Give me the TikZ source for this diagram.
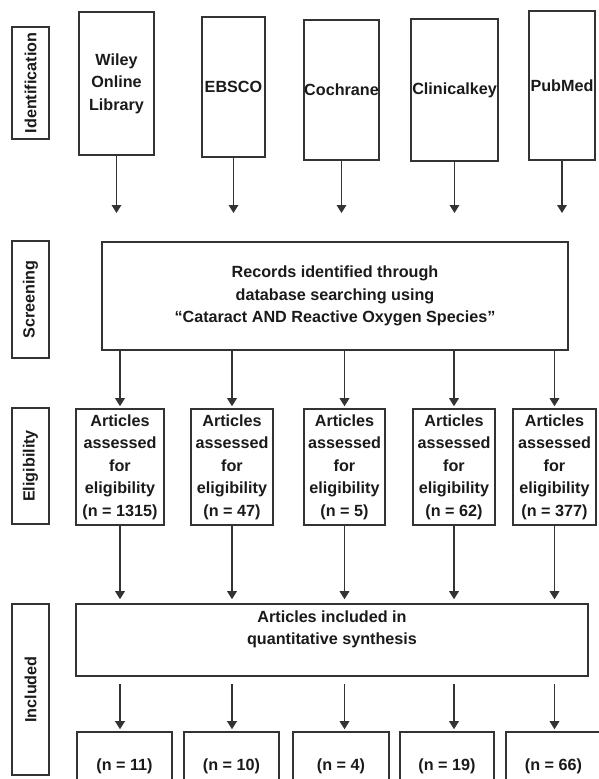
\documentclass[tikz,border=0pt]{standalone}
\usepackage{fontspec}
\setmainfont{Liberation Sans}
\usetikzlibrary{arrows.meta,positioning}
\definecolor{linegray}{HTML}{333333}
\definecolor{inkblack}{HTML}{1A1A1A}
\begin{document}
\begin{tikzpicture}[x=0.025cm, y=-0.025cm,
    txt/.style={text=inkblack, inner sep=0pt, align=center, font=\bfseries\fontsize{11.5}{16}\selectfont},
    box/.style={txt, rectangle, draw=linegray, line width=\boxlinewidth},
    stagebox/.style={box, rotate=90, minimum height=37*\pxu},
    arr/.style={-{Triangle[width=0.24cm,length=0.2cm]}, draw=linegray, line width=\arrowlinewidth}]
        \def\pxu{0.025cm}
        \def\boxlinewidth{1.1pt}
        \def\arrowlinewidth{1pt}

        \useasboundingbox (0,0) rectangle (599,779);
        \clip (0,0) rectangle (599,779);

        \node[stagebox, minimum width=112*\pxu] (identification) at (30.5,83) {Identification};
        \node[stagebox, minimum width=117*\pxu] (screening) at (30.5,299.5) {Screening};
        \node[stagebox, minimum width=116*\pxu] (eligibility) at (30.5,466) {Eligibility};
        \node[stagebox, minimum width=171*\pxu] (included) at (30.5,689.5) {Included};

        \node[box, minimum width=75*\pxu, minimum height=143*\pxu] (wiley) at (116.5,83.5) {Wiley\\Online\\Library};
        \node[box, minimum width=63*\pxu, minimum height=140*\pxu] (ebsco) at (233.5,87) {EBSCO};
        \node[box, minimum width=75*\pxu, minimum height=140*\pxu] (cochrane) at (341.5,90) {Cochrane};
        \node[box, minimum width=87*\pxu, minimum height=142*\pxu] (clinicalkey) at (454.5,90) {Clinicalkey};
        \node[box, minimum width=66*\pxu, minimum height=149*\pxu] (pubmed) at (562,85.5) {PubMed};
        \coordinate (tipline) at (0,213);

        \node[box, minimum width=466*\pxu, minimum height=108*\pxu] (records) at (335,296) {Records identified through\\database searching using\\“Cataract AND Reactive Oxygen Species”};

        \node[box, minimum width=88*\pxu, minimum height=116*\pxu] (e1) at (120,467) {Articles\\assessed\\for\\eligibility\\(n = 1315)};
        \node[box, minimum width=82*\pxu, minimum height=116*\pxu] (e2) at (232,467) {Articles\\assessed\\for\\eligibility\\(n = 47)};
        \node[box, minimum width=81*\pxu, minimum height=116*\pxu] (e3) at (344.5,467) {Articles\\assessed\\for\\eligibility\\(n = 5)};
        \node[box, minimum width=82*\pxu, minimum height=116*\pxu] (e4) at (454,467) {Articles\\assessed\\for\\eligibility\\(n = 62)};
        \node[box, minimum width=83*\pxu, minimum height=116*\pxu] (e5) at (554.5,467) {Articles\\assessed\\for\\eligibility\\(n = 377)};

        \node[box, minimum width=512*\pxu, minimum height=72*\pxu] (synthesis) at (332,640) {};
        \node[txt, below=7*\pxu of synthesis.north] (synthesistext) {Articles included in\\quantitative synthesis};

        \node[box, minimum width=95*\pxu, minimum height=68*\pxu] (f1) at (124.5,766) {(n = 11)};
        \node[box, minimum width=95*\pxu, minimum height=68*\pxu] (f2) at (231.5,766) {(n = 10)};
        \node[box, minimum width=96*\pxu, minimum height=68*\pxu] (f3) at (341,766) {(n = 4)};
        \node[box, minimum width=94*\pxu, minimum height=68*\pxu] (f4) at (447,766) {(n = 19)};
        \node[box, minimum width=95*\pxu, minimum height=68*\pxu] (f5) at (553.5,766) {(n = 66)};

        \foreach \src in {wiley,ebsco,cochrane,clinicalkey,pubmed}
            \draw[arr] (\src) -- (\src |- tipline);
        \foreach \n in {1,...,5} {
            \draw[arr, shorten >=2*\pxu] (records.south -| e\n) -- (e\n);
            \draw[arr, shorten >=4*\pxu] (e\n) -- (e\n |- synthesis.north);
            \draw[arr, shorten <=7*\pxu, shorten >=2*\pxu] (e\n |- synthesis.south) -- (e\n |- f\n.north);
        }
    \end{tikzpicture}
\end{document}
